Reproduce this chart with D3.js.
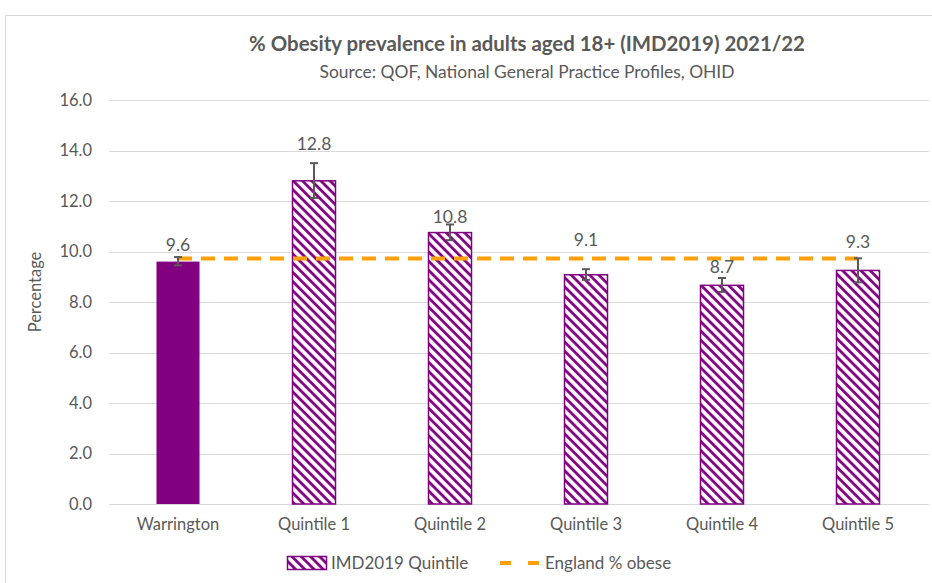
<!DOCTYPE html>
<html>
<head>
<meta charset="utf-8">
<script src="https://cdn.jsdelivr.net/npm/d3@7"></script>
<style>
  body { margin: 0; background: #fff; }
  text { font-family: Lato, "Open Sans", sans-serif; fill: #595959; }
</style>
</head>
<body>
<script>
const categories = ['Warrington', 'Quintile 1', 'Quintile 2', 'Quintile 3', 'Quintile 4', 'Quintile 5']
const values = [9.6, 12.8, 10.75, 9.08, 8.66, 9.25]
const errLow = [9.45, 12.12, 10.45, 8.88, 8.4, 8.78]
const errHigh = [9.78, 13.5, 11.07, 9.3, 8.95, 9.73]
const labels = ['9.6', '12.8', '10.8', '9.1', '8.7', '9.3']
const englandValue = 9.72
const yTicks = [0, 2, 4, 6, 8, 10, 12, 14, 16]
// manual label lift above the error bar top (px), as in the original
const labelLift = [6, 13, 1, 23, 5, 10]

const purple = '#800080'
const orange = '#FFA00A'
const grey = '#595959'

function drawChart() {
    var svg = d3.select('body')
        .append('svg')
        .attr('width', 932)
        .attr('height', 583)

    var defs = svg.append('defs')
    var pat = defs.append('pattern')
        .attr('id', 'hatch')
        .attr('patternUnits', 'userSpaceOnUse')
        .attr('width', 6.5)
        .attr('height', 6.5)
        .attr('patternTransform', 'rotate(-45)')
    pat.append('rect').attr('width', 6.5).attr('height', 6.5).attr('fill', '#fff')
    pat.append('line')
        .attr('x1', 1.5).attr('y1', 0).attr('x2', 1.5).attr('y2', 6.5)
        .attr('stroke', purple).attr('stroke-width', 2.8)

    // chart area border
    svg.append('rect')
        .attr('x', 5.5).attr('y', 15.5)
        .attr('width', 940).attr('height', 600)
        .attr('fill', 'none')
        .attr('stroke', '#d9d9d9')

    var x = d3.scaleBand().domain(categories).range([110, 926])
    var y = d3.scaleLinear().domain([0, 16]).range([504, 100])

    // gridlines
    svg.append('g')
        .selectAll('line')
        .data(yTicks)
        .enter()
        .append('line')
        .attr('x1', 109).attr('x2', 929)
        .attr('y1', function(d) { return Math.round(y(d)) + 0.5 })
        .attr('y2', function(d) { return Math.round(y(d)) + 0.5 })
        .attr('stroke', '#d9d9d9')
        .attr('stroke-width', 1)

    // y axis labels
    var yAxis = svg.append('g')
        .attr('transform', 'translate(92,0)')
        .call(d3.axisLeft(y).tickValues(yTicks).tickFormat(d3.format('.1f')).tickSize(0).tickPadding(0))
    yAxis.select('.domain').remove()
    yAxis.selectAll('text')
        .attr('font-size', 16.5)
        .style('font-family', 'Lato, sans-serif')
        .attr('fill', grey)

    // x axis labels
    var xAxis = svg.append('g')
        .attr('transform', 'translate(0,504)')
        .call(d3.axisBottom(x).tickSize(0).tickPadding(14))
    xAxis.select('.domain').remove()
    xAxis.selectAll('text')
        .attr('font-size', 16.5)
        .style('font-family', 'Lato, sans-serif')
        .attr('fill', grey)

    var bw = 43
    // bars
    svg.append('g')
        .selectAll('rect')
        .data(values)
        .enter()
        .append('rect')
        .attr('x', function(d, i) { return x(categories[i]) + x.bandwidth() / 2 - bw / 2 })
        .attr('width', bw)
        .attr('y', function(d) { return y(d) })
        .attr('height', function(d) { return y(0) - y(d) })
        .attr('fill', function(d, i) { return i === 0 ? purple : 'url(#hatch)' })
        .attr('stroke', purple)
        .attr('stroke-width', function(d, i) { return i === 0 ? 0 : 1.5 })

    // England line
    var cx = function(c) { return x(c) + x.bandwidth() / 2 }
    svg.append('line')
        .attr('x1', cx(categories[0]))
        .attr('x2', cx(categories[categories.length - 1]))
        .attr('y1', y(englandValue))
        .attr('y2', y(englandValue))
        .attr('stroke', orange)
        .attr('stroke-width', 4)
        .attr('stroke-dasharray', '14,9')

    // error bars
    var eb = svg.append('g').attr('stroke', grey).attr('stroke-width', 2)
    categories.forEach(function(c, i) {
        var xc = cx(c)
        eb.append('line').attr('x1', xc).attr('x2', xc).attr('y1', y(errLow[i])).attr('y2', y(errHigh[i]))
        eb.append('line').attr('x1', xc - 4).attr('x2', xc + 4).attr('y1', y(errLow[i])).attr('y2', y(errLow[i]))
        eb.append('line').attr('x1', xc - 4).attr('x2', xc + 4).attr('y1', y(errHigh[i])).attr('y2', y(errHigh[i]))

        svg.append('text')
            .text(labels[i])
            .attr('x', xc)
            .attr('y', y(errHigh[i]) - labelLift[i])
            .attr('text-anchor', 'middle')
            .attr('font-size', 17.5)
    })

    // titles
    svg.append('text')
        .text('% Obesity prevalence in adults aged 18+ (IMD2019) 2021/22')
        .attr('x', 527).attr('y', 51)
        .attr('text-anchor', 'middle')
        .attr('font-size', 20.4)
        .attr('font-weight', 'bold')
    svg.append('text')
        .text('Source: QOF, National General Practice Profiles, OHID')
        .attr('x', 527).attr('y', 78)
        .attr('text-anchor', 'middle')
        .attr('font-size', 17.4)

    svg.append('text')
        .text('Percentage')
        .attr('transform', 'translate(41,292) rotate(-90)')
        .attr('text-anchor', 'middle')
        .attr('font-size', 16.5)

    // legend
    var lg = svg.append('g')
    lg.append('rect')
        .attr('x', 287.5).attr('y', 556.5)
        .attr('width', 39).attr('height', 13)
        .attr('fill', 'url(#hatch)')
        .attr('stroke', purple).attr('stroke-width', 1.5)
    lg.append('text').text('IMD2019 Quintile')
        .attr('x', 331).attr('y', 569).attr('font-size', 17)
    lg.append('line')
        .attr('x1', 500).attr('x2', 540)
        .attr('y1', 563).attr('y2', 563)
        .attr('stroke', orange).attr('stroke-width', 4)
        .attr('stroke-dasharray', '11,17')
    lg.append('text').text('England % obese')
        .attr('x', 545).attr('y', 569).attr('font-size', 17)
}

drawChart()
</script>
</body>
</html>
